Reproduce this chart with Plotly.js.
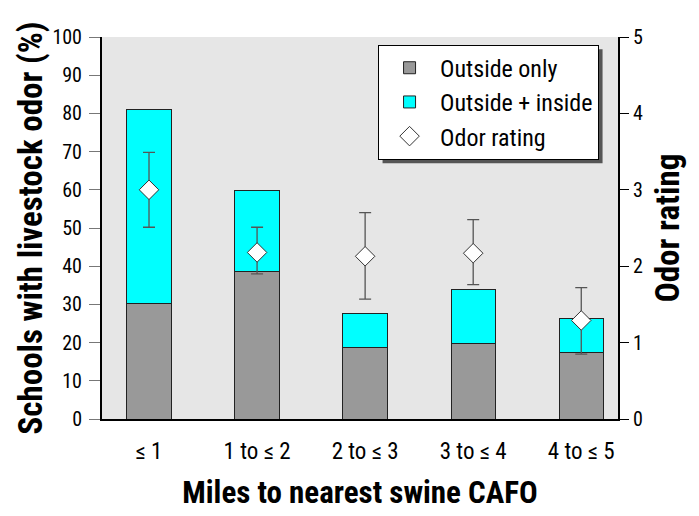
<!DOCTYPE html>
<html><head><meta charset="utf-8">
<script src="https://cdn.plot.ly/plotly-3.0.1.min.js"></script>
<style>html,body{margin:0;padding:0;background:#fff}#chart{width:699px;height:516px}</style>
</head><body><div id="chart"></div>
<script>
const categories = ["\u2264 1", "1 to \u2264 2", "2 to \u2264 3", "3 to \u2264 4", "4 to \u2264 5"];
const outsideOnly = [30.3, 38.7, 18.8, 19.8, 17.5];
const outsideInsideExtra = [50.7, 21.0, 8.7, 14.2, 8.9];
const odorRating = [3.0, 2.18, 2.13, 2.17, 1.29];
const odorErrPlus = [0.49, 0.33, 0.57, 0.44, 0.43];
const odorErrMinus = [0.49, 0.28, 0.56, 0.41, 0.44];
const leftTicks = [0,10,20,30,40,50,60,70,80,90,100];
const rightTicks = [0,1,2,3,4,5];

const FONT = "'Roboto Condensed', 'Liberation Sans Narrow', 'DejaVu Sans Condensed', 'Arial Narrow', sans-serif";
const xs = categories.map((c,i)=>i);

const traces = [
  {type:'bar', x:xs, y:outsideOnly, name:'Outside only', width:0.41,
   marker:{color:'#999999', line:{color:'#222', width:1}}},
  {type:'bar', x:xs, y:outsideInsideExtra, name:'Outside + inside', width:0.41,
   marker:{color:'#00FFFF', line:{color:'#222', width:1}}},
  {type:'scatter', mode:'markers', x:xs, y:odorRating, yaxis:'y2', name:'Odor rating',
   marker:{symbol:'diamond', size:15, color:'#ffffff', line:{color:'#333', width:1}},
   error_y:{type:'data', symmetric:false, array:odorErrPlus, arrayminus:odorErrMinus,
            color:'#555', thickness:1.3, width:6}}
];

const layout = {
  width:699, height:516,
  margin:{l:102, r:81, t:37, b:97},
  paper_bgcolor:'#fff', plot_bgcolor:'#e6e6e6',
  barmode:'stack', showlegend:true,
  font:{family:FONT, color:'#000', size:20},
  xaxis:{range:[-0.435,4.34], tickvals:xs, ticktext:categories, showgrid:false, zeroline:false,
         showline:true, linecolor:'#000', linewidth:2, ticks:'', ticklabelstandoff:10,
         tickfont:{size:23, family:FONT},
         title:{text:'<b>Miles to nearest swine CAFO</b>', font:{size:31, family:FONT}, standoff:18}},
  yaxis:{range:[0,100], tickvals:leftTicks, showgrid:false, zeroline:false,
         showline:true, linecolor:'#000', linewidth:2, ticks:'outside', ticklen:11, tickcolor:'#777',
         tickfont:{size:20, family:FONT}, ticklabelstandoff:3,
         title:{text:'<b>Schools with livestock odor (%)</b>', font:{size:33, family:FONT}, standoff:0}},
  yaxis2:{range:[0,5], overlaying:'y', side:'right', tickvals:rightTicks, showgrid:false, zeroline:false,
          showline:true, linecolor:'#000', linewidth:2, ticks:'outside', ticklen:9, tickcolor:'#000',
          tickfont:{size:20, family:FONT},
          title:{text:'<b>Odor rating</b>', font:{size:33, family:FONT}, standoff:14}},
  legend:{x:0.535, y:0.98, xanchor:'left', yanchor:'top', bgcolor:'#ffffff', bordercolor:'#000', borderwidth:1,
          font:{size:24, family:FONT}, traceorder:'normal', itemwidth:51, tracegroupgap:0},
  shapes:[]
};

Plotly.newPlot('chart', traces, layout, {displayModeBar:false, staticPlot:true}).then(gd => {
  const bg = gd.querySelector('.legend .bg');
  if (!bg) return;
  const r = bg.getBoundingClientRect();
  const c = gd.getBoundingClientRect();
  const s = gd._fullLayout._size;
  const off = 4;
  const px2x = px => (px - c.left - s.l) / s.w;
  const px2y = py => 1 - (py - c.top - s.t) / s.h;
  return Plotly.relayout(gd, {shapes:[{type:'rect', xref:'paper', yref:'paper',
    x0:px2x(r.left + off), x1:px2x(r.right + off), y0:px2y(r.bottom + off), y1:px2y(r.top + off),
    fillcolor:'#555', line:{width:0}, layer:'above'}]});
});
</script></body></html>
